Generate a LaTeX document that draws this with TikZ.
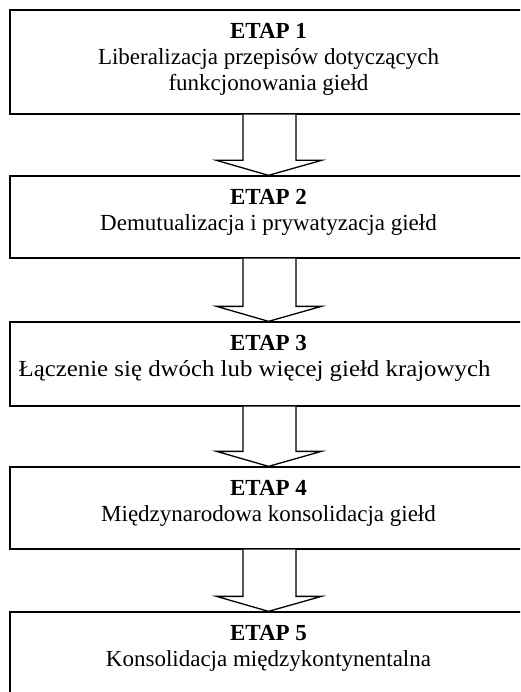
\documentclass[tikz,border=0pt]{standalone}
\usepackage{graphicx}
\usepackage{fontspec}
\setmainfont{Liberation Serif}
\usetikzlibrary{calc}
\begin{document}
\begin{tikzpicture}[x=1pt,y=-1pt,
  stagebox/.style={draw=black,line width=1.3pt,fill=white,rectangle,minimum width=517pt,inner sep=0pt},
  lbl/.style={anchor=base,inner sep=0pt,font=\fontsize{23}{26}\selectfont},
  lblb/.style={lbl,font=\fontsize{23}{26}\selectfont\bfseries},
  bigarrow/.style={draw=black,line width=1.3pt,fill=white,line join=miter}]
\useasboundingbox (0,0) rectangle (520,692);
\clip (0,0) rectangle (520,692);
\node[stagebox,minimum height=104pt] (b1) at (268.5,62) {};
\node[stagebox,minimum height=82pt] (b2) at (268.5,217) {};
\node[stagebox,minimum height=84pt] (b3) at (268.5,364) {};
\node[stagebox,minimum height=82pt] (b4) at (268.5,508) {};
\node[stagebox,minimum height=90pt] (b5) at (268.5,657) {};
% labels
\node[lblb] (t1a) at ($(b1.north)+(0,29)$) {ETAP 1};
\node[lbl] (t1b) at ($(b1.north)+(0,55)$) {Liberalizacja przepisów dotyczących};
\node[lbl] (t1c) at ($(b1.north)+(0,81)$) {funkcjonowania giełd};
\node[lblb] (t2a) at ($(b2.north)+(0,29)$) {ETAP 2};
\node[lbl] (t2b) at ($(b2.north)+(0,55)$) {Demutualizacja i prywatyzacja giełd};
\node[lblb] (t3a) at ($(b3.north)+(0,29)$) {ETAP 3};
\node[lbl] (t3b) at ($(b3.north)+(-14,55)$) {\scalebox{1.08}[1]{Łączenie się dwóch lub więcej giełd krajowych}};
\node[lblb] (t4a) at ($(b4.north)+(0,29)$) {ETAP 4};
\node[lbl] (t4b) at ($(b4.north)+(0,55)$) {Międzynarodowa konsolidacja giełd};
\node[lblb] (t5a) at ($(b5.north)+(0,29)$) {ETAP 5};
\node[lbl] (t5b) at ($(b5.north)+(0,55)$) {Konsolidacja międzykontynentalna};
% arrows
\foreach \u/\v in {b1/b2,b2/b3,b3/b4,b4/b5}{
  \draw[bigarrow] ($(\u.south)+(-25.5,0)$) -- ($(\v.north)+(-25.5,-15)$) -- ($(\v.north)+(-52,-15)$)
    -- (\v.north) -- ($(\v.north)+(53,-15)$) -- ($(\v.north)+(27.5,-15)$) -- ($(\u.south)+(27.5,0)$);
}
\end{tikzpicture}
\end{document}
